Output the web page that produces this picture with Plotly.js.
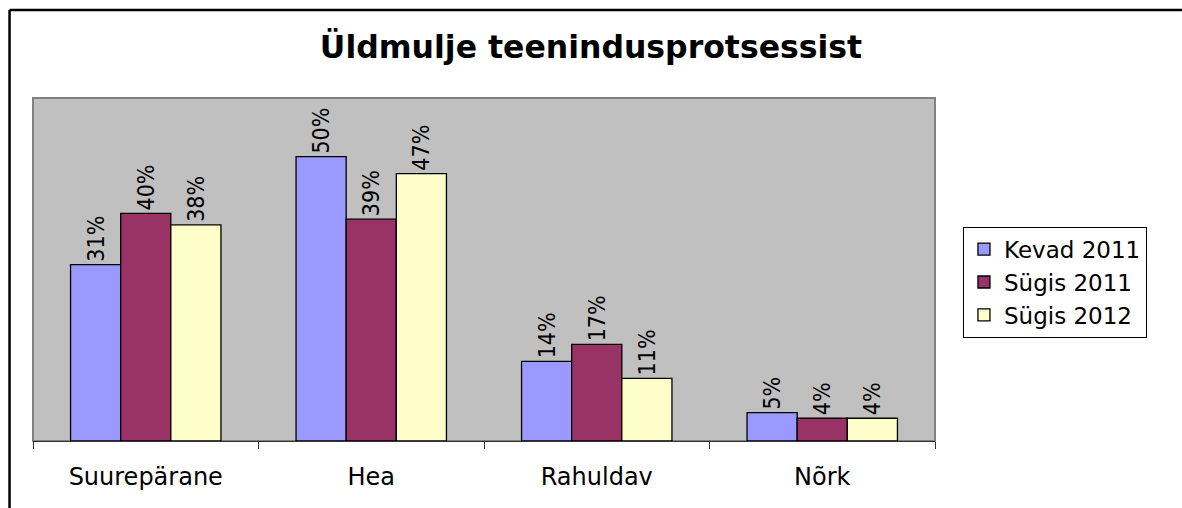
<!DOCTYPE html>
<html>
<head>
<meta charset="utf-8">
<script src="https://cdn.plot.ly/plotly-3.0.1.min.js"></script>
<style>html,body{margin:0;padding:0;background:#fff;overflow:hidden;}#chart{width:1182px;height:508px;}</style>
</head>
<body>
<div id="chart"></div>
<script>
const categories = ["Suurepärane", "Hea", "Rahuldav", "Nõrk"];
const seriesNames = ["Kevad 2011", "Sügis 2011", "Sügis 2012"];
const kevad2011 = [31, 50, 14, 5];
const sygis2011 = [40, 39, 17, 4];
const sygis2012 = [38, 47, 11, 4];
const colors = ["#9999FF", "#993366", "#FFFFCC"];

const values = [kevad2011, sygis2011, sygis2012];
const traces = values.map((v, i) => ({
  type: 'bar',
  name: seriesNames[i],
  x: categories,
  y: v,
  marker: {color: colors[i], line: {color: '#000', width: 1.3}},
  text: v.map(n => n + '%'),
  textposition: 'outside',
  textangle: -90,
  constraintext: 'none',
  cliponaxis: false,
  textfont: {family: '"DejaVu Sans Condensed", "DejaVu Sans", sans-serif', size: 23, color: '#000'},
  hoverinfo: 'none'
}));

const layout = {
  width: 1182, height: 508,
  margin: {l: 33, r: 247, t: 98, b: 67},
  paper_bgcolor: '#fff',
  plot_bgcolor: '#C0C0C0',
  barmode: 'group',
  bargap: 0.333,
  bargroupgap: 0,
  showlegend: true,
  title: {text: '<b>Üldmulje teenindusprotsessist</b>', x: 0.5, xref: 'container', y: 0.907, yref: 'container', yanchor: 'middle',
    font: {family: '"DejaVu Sans", sans-serif', size: 31.5, color: '#000'}},
  xaxis: {
    type: 'category', tickson: 'boundaries', ticks: 'outside', ticklen: 7, tickcolor: '#333', tickwidth: 1,
    showline: true, linecolor: '#333', linewidth: 1, showgrid: false, ticklabelstandoff: 14,
    tickfont: {family: '"DejaVu Sans", sans-serif', size: 24, color: '#000'}
  },
  yaxis: {range: [0, 60.3], showgrid: false, showticklabels: false, zeroline: false, ticks: '', showline: false},
  legend: {
    x: 1.031, y: 0.625, xanchor: 'left', yanchor: 'top',
    bordercolor: '#000', borderwidth: 1, bgcolor: '#fff',
    font: {family: '"DejaVu Sans", sans-serif', size: 23, color: '#000'},
    tracegroupgap: 0
  },
  shapes: [
    {type: 'rect', xref: 'paper', yref: 'paper', x0: 0, x1: 1, y0: 0, y1: 1, line: {color: '#808080', width: 2}, layer: 'below'},
    {type: 'line', xref: 'paper', yref: 'paper', x0: -0.026, x1: -0.026, y0: -0.2, y1: 1.2566, line: {color: '#000', width: 2.5}},
    {type: 'line', xref: 'paper', yref: 'paper', x0: -0.026, x1: 1.2738, y0: 1.2566, y1: 1.2566, line: {color: '#000', width: 2.5}}
  ]
};

Plotly.newPlot('chart', traces, layout, {displayModeBar: false, staticPlot: true});
</script>
</body>
</html>
